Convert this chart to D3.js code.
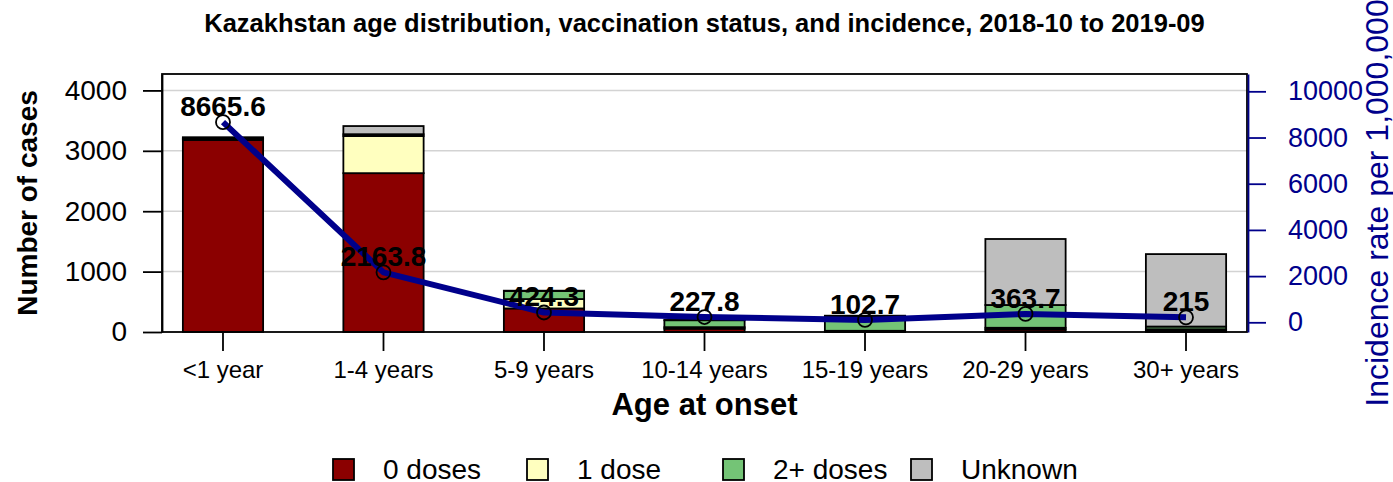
<!DOCTYPE html>
<html>
<head>
<meta charset="utf-8">
<script src="https://cdn.jsdelivr.net/npm/d3@7"></script>
<style>
  body { margin: 0; background: #fff; }
  text { font-family: "Liberation Sans", Arial, sans-serif; }
</style>
</head>
<body>
<div id="chart"></div>
<script>
// data
var ageGroups = ["<1 year", "1-4 years", "5-9 years", "10-14 years", "15-19 years", "20-29 years", "30+ years"];
var doses0  = [3180, 2630, 390, 55, 10, 40, 30];
var doses1  = [20, 615, 155, 25, 10, 30, 15];
var doses2  = [5, 30, 135, 115, 235, 377, 45];
var unknown = [20, 135, 4, 4, 15, 1093, 1200];
var incidence = [8665.6, 2163.8, 424.3, 227.8, 102.7, 363.7, 215];
var incidenceLabels = ["8665.6", "2163.8", "424.3", "227.8", "102.7", "363.7", "215"];
var seriesNames = ["0 doses", "1 dose", "2+ doses", "Unknown"];
var seriesColours = ["#8b0000", "#ffffbf", "#74c476", "#bebebe"];
var leftTicks = [0, 1000, 2000, 3000, 4000];
var rightTicks = [0, 2000, 4000, 6000, 8000, 10000];

var width = 1393, height = 482;
var plot = { left: 162, right: 1247, top: 74, bottom: 332 };

var svg = d3.select("#chart")
    .append("svg")
    .attr("width", width)
    .attr("height", height);

var rows = ageGroups.map(function (g, i) {
    return { group: g, "0 doses": doses0[i], "1 dose": doses1[i], "2+ doses": doses2[i], "Unknown": unknown[i] };
});
var stacked = d3.stack().keys(seriesNames)(rows);

var x = d3.scaleBand()
    .domain(ageGroups)
    .range([plot.left, plot.right])
    .paddingInner(0.5)
    .paddingOuter(0.13);

var y = d3.scaleLinear()
    .domain([0, 4272])
    .range([plot.bottom, plot.top]);

var y2 = d3.scaleLinear()
    .domain([-420, 10750])
    .range([plot.bottom, plot.top]);

var colour = d3.scaleOrdinal().domain(seriesNames).range(seriesColours);

// title
svg.append("text")
    .attr("x", (plot.left + plot.right) / 2)
    .attr("y", 32)
    .attr("text-anchor", "middle")
    .style("font-size", "25.5px")
    .style("font-weight", "bold")
    .text("Kazakhstan age distribution, vaccination status, and incidence, 2018-10 to 2019-09");

// grid
svg.append("g")
    .selectAll("line")
    .data(leftTicks.slice(1))
    .enter()
    .append("line")
    .attr("x1", plot.left)
    .attr("x2", plot.right)
    .attr("y1", function (d) { return y(d); })
    .attr("y2", function (d) { return y(d); })
    .attr("stroke", "#d3d3d3")
    .attr("stroke-width", 1.5);

// bars
svg.append("g")
    .selectAll("g")
    .data(stacked)
    .enter()
    .append("g")
    .attr("fill", function (d) { return colour(d.key); })
    .selectAll("rect")
    .data(function (d) { return d; })
    .enter()
    .append("rect")
    .attr("x", function (d) { return x(d.data.group); })
    .attr("width", x.bandwidth())
    .attr("y", function (d) { return y(d[1]); })
    .attr("height", function (d) { return y(d[0]) - y(d[1]); })
    .attr("stroke", "#000")
    .attr("stroke-width", 1.8);

// box
svg.append("rect")
    .attr("x", plot.left)
    .attr("y", plot.top)
    .attr("width", plot.right - plot.left)
    .attr("height", plot.bottom - plot.top)
    .attr("fill", "none")
    .attr("stroke", "#000")
    .attr("stroke-width", 1.8);

// left axis
var yAxis = d3.axisLeft(y).tickValues(leftTicks).tickFormat(d3.format("d"))
    .tickSize(19).tickPadding(16).tickSizeOuter(0);
var gy = svg.append("g")
    .attr("transform", "translate(" + plot.left + ",0)")
    .call(yAxis);
gy.select(".domain").attr("stroke-width", 1.8);
gy.selectAll(".tick line").attr("stroke-width", 1.8);
gy.selectAll(".tick text")
    .attr("font-family", "Liberation Sans, Arial, sans-serif")
    .style("font-size", "28px")
    .attr("fill", "#000");

svg.append("text")
    .attr("transform", "translate(37," + ((plot.top + plot.bottom) / 2) + ") rotate(-90)")
    .attr("text-anchor", "middle")
    .style("font-size", "28px")
    .style("font-weight", "bold")
    .text("Number of cases");

// right axis
var yAxis2 = d3.axisRight(y2).tickValues(rightTicks).tickFormat(d3.format("d"))
    .tickSize(18).tickPadding(22).tickSizeOuter(0);
var gy2 = svg.append("g")
    .attr("transform", "translate(" + (plot.right + 1) + ",0)")
    .call(yAxis2);
gy2.select(".domain").attr("stroke", "#00008b").attr("stroke-width", 1.8);
gy2.selectAll(".tick line").attr("stroke", "#00008b").attr("stroke-width", 1.8);
gy2.selectAll(".tick text")
    .attr("font-family", "Liberation Sans, Arial, sans-serif")
    .style("font-size", "27px")
    .attr("fill", "#00008b");

svg.append("text")
    .attr("transform", "translate(1388," + ((plot.top + plot.bottom) / 2) + ") rotate(-90)")
    .attr("text-anchor", "middle")
    .style("font-size", "32px")
    .attr("fill", "#00008b")
    .text("Incidence rate per 1,000,000");

// bottom axis
var xAxis = d3.axisBottom(x).tickSize(19).tickPadding(10).tickSizeOuter(0);
var gx = svg.append("g")
    .attr("transform", "translate(0," + plot.bottom + ")")
    .call(xAxis);
gx.select(".domain").remove();
gx.selectAll(".tick line").attr("stroke-width", 1.8);
gx.selectAll(".tick text")
    .attr("font-family", "Liberation Sans, Arial, sans-serif")
    .style("font-size", "24px")
    .attr("fill", "#000");

svg.append("text")
    .attr("x", (plot.left + plot.right) / 2)
    .attr("y", 415)
    .attr("text-anchor", "middle")
    .style("font-size", "31px")
    .style("font-weight", "bold")
    .text("Age at onset");

// incidence line
var cx = function (i) { return x(ageGroups[i]) + x.bandwidth() / 2; };
var line = d3.line()
    .x(function (d, i) { return cx(i); })
    .y(function (d) { return y2(d); });

svg.append("path")
    .datum(incidence)
    .attr("d", line)
    .attr("fill", "none")
    .attr("stroke", "#00008b")
    .attr("stroke-width", 6)
    .attr("stroke-linejoin", "round");

svg.append("g")
    .selectAll("circle")
    .data(incidence)
    .enter()
    .append("circle")
    .attr("cx", function (d, i) { return cx(i); })
    .attr("cy", function (d) { return y2(d); })
    .attr("r", 7)
    .attr("fill", "none")
    .attr("stroke", "#000")
    .attr("stroke-width", 1.8);

svg.append("g")
    .selectAll("text")
    .data(incidence)
    .enter()
    .append("text")
    .attr("x", function (d, i) { return cx(i); })
    .attr("y", function (d) { return y2(d) - 6; })
    .attr("text-anchor", "middle")
    .style("font-size", "28px")
    .style("font-weight", "bold")
    .text(function (d, i) { return incidenceLabels[i]; });

// legend
var legendX = [333, 527, 723, 911];
var legend = svg.append("g")
    .selectAll("g")
    .data(seriesNames)
    .enter()
    .append("g")
    .attr("transform", function (d, i) { return "translate(" + legendX[i] + ",459)"; });

legend.append("rect")
    .attr("width", 21)
    .attr("height", 21)
    .attr("fill", function (d) { return colour(d); })
    .attr("stroke", "#000")
    .attr("stroke-width", 1.8);

legend.append("text")
    .attr("x", 50)
    .attr("y", 20)
    .style("font-size", "28px")
    .text(function (d) { return d; });
</script>
</body>
</html>
